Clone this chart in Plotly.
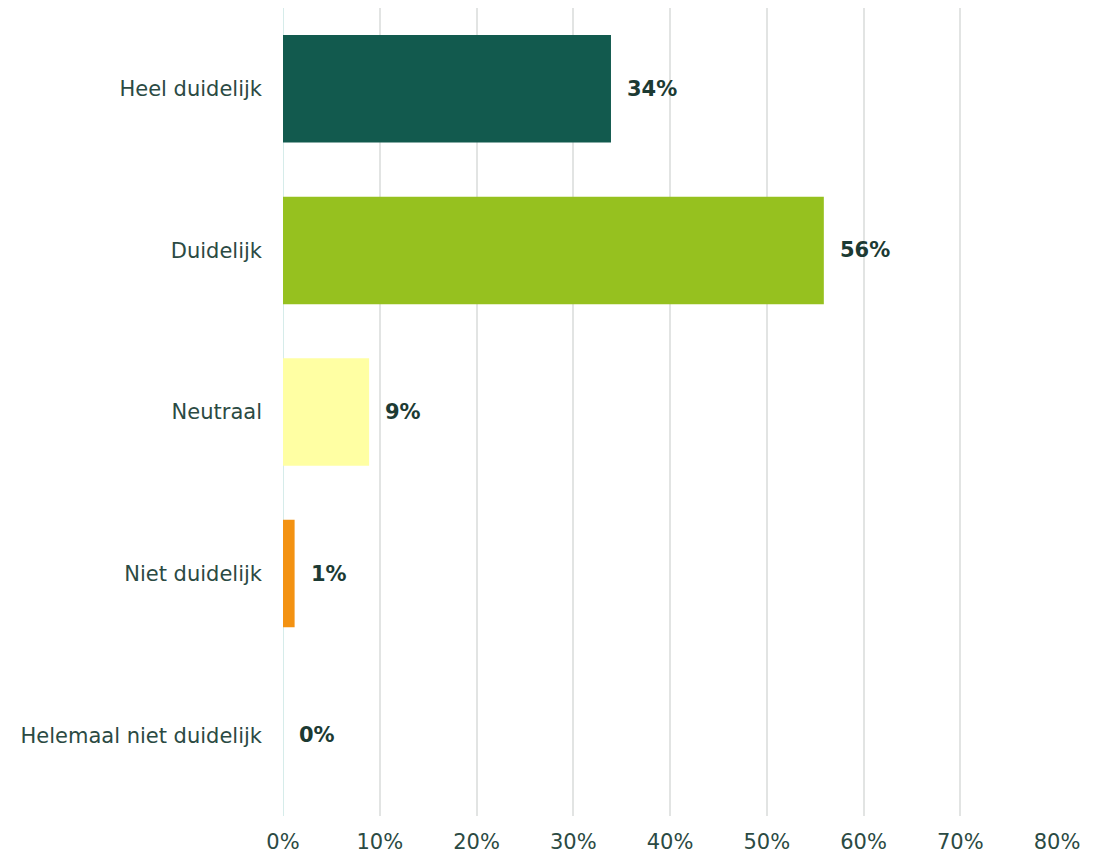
import plotly.graph_objects as go

categories = ["Heel duidelijk", "Duidelijk", "Neutraal", "Niet duidelijk", "Helemaal niet duidelijk"]
values = [33.9, 55.9, 8.9, 1.2, 0.0]
labels = ["34%", "56%", "9%", "1%", "0%"]
colors = ["#125a4e", "#96c11f", "#ffffa3", "#f39212", "#e6e6e6"]
x_ticks = [0, 10, 20, 30, 40, 50, 60, 70, 80]
x_ticklabels = ["0%", "10%", "20%", "30%", "40%", "50%", "60%", "70%", "80%"]

FONT = "'DejaVu Sans', 'Open Sans', sans-serif"
TXT = "#2b4a43"

fig = go.Figure()
fig.add_trace(go.Bar(
    x=values, y=categories, orientation="h",
    marker=dict(color=colors, line=dict(width=0)),
    hoverinfo="skip",
))

for cat, v, lab in zip(categories, values, labels):
    fig.add_annotation(x=v, y=cat, text="<b>" + lab + "</b>", showarrow=False,
                       xanchor="left", xshift=14,
                       font=dict(family=FONT, size=21, color="#1c3a33"))

fig.update_layout(
    width=1090, height=846,
    margin=dict(l=275, r=41, t=0, b=34),
    paper_bgcolor="white", plot_bgcolor="white",
    bargap=0.335,
    showlegend=False,
    font=dict(family=FONT, size=21, color=TXT),
    xaxis=dict(range=[0, 80], tickvals=x_ticks, ticktext=x_ticklabels,
               showgrid=True, gridcolor="#e2e4e3", gridwidth=2,
               zeroline=False, showline=False, ticks="",
               ticklabelstandoff=11, fixedrange=True),
    yaxis=dict(categoryorder="array", categoryarray=categories[::-1],
               showgrid=False, zeroline=False, ticks="",
               ticklabelstandoff=20, fixedrange=True),
    shapes=[dict(type="line", xref="x", yref="paper", x0=0, x1=0, y0=0, y1=1,
                 line=dict(color="#d6ecea", width=2), layer="below")],
)

fig.write_html("out.html")
